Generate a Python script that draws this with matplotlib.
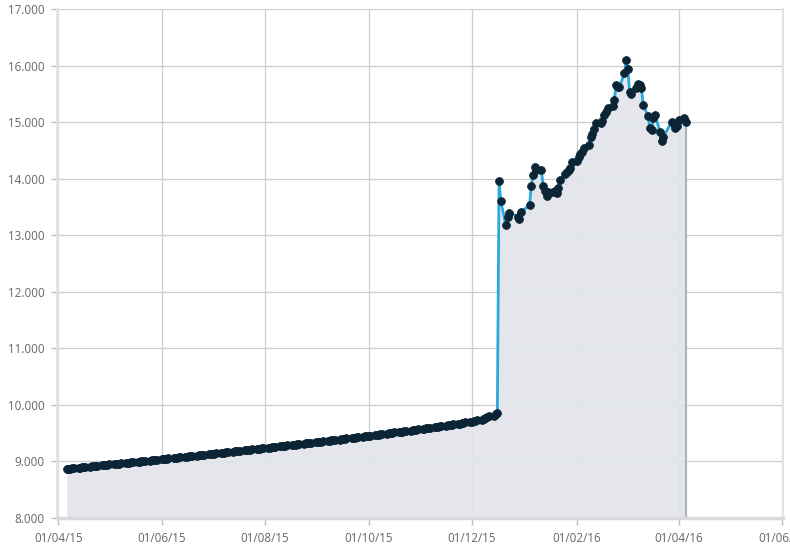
import numpy as np
import pandas as pd
import matplotlib
matplotlib.use("Agg")
import matplotlib.pyplot as plt
import matplotlib.dates as mdates
from matplotlib.ticker import FuncFormatter, MultipleLocator

# ── data ─────────────────────────────────────────────────────────────────────
# business days 06/04/15 .. 16/12/15, one row per week
pre_start, pre_end = "2015-04-06", "2015-12-16"
pre_values = [
    8866, 8870, 8874, 8878, 8883,
    8887, 8891, 8895, 8900, 8904,
    8908, 8912, 8916, 8921, 8925,
    8929, 8933, 8937, 8942, 8946,
    8950, 8954, 8958, 8963, 8967,
    8971, 8975, 8980, 8984, 8989,
    8993, 8997, 9002, 9006, 9011,
    9015, 9019, 9024, 9028, 9033,
    9037, 9041, 9046, 9050, 9055,
    9059, 9063, 9068, 9072, 9077,
    9081, 9085, 9090, 9094, 9099,
    9103, 9108, 9112, 9117, 9121,
    9126, 9131, 9135, 9140, 9144,
    9149, 9154, 9158, 9163, 9167,
    9172, 9177, 9181, 9186, 9190,
    9195, 9200, 9204, 9209, 9213,
    9218, 9223, 9227, 9232, 9236,
    9241, 9246, 9251, 9255, 9260,
    9265, 9270, 9275, 9279, 9284,
    9289, 9294, 9299, 9303, 9308,
    9313, 9318, 9323, 9327, 9332,
    9337, 9342, 9347, 9351, 9356,
    9361, 9366, 9371, 9376, 9381,
    9386, 9391, 9396, 9401, 9406,
    9411, 9416, 9421, 9427, 9432,
    9437, 9442, 9447, 9453, 9458,
    9463, 9468, 9474, 9479, 9485,
    9490, 9496, 9501, 9507, 9512,
    9518, 9524, 9529, 9535, 9540,
    9546, 9552, 9558, 9563, 9569,
    9575, 9581, 9587, 9592, 9598,
    9604, 9610, 9616, 9622, 9628,
    9634, 9640, 9646, 9652, 9658,
    9664, 9670, 9676, 9683, 9689,
    9695, 9703, 9712, 9721, 9730,
    9740, 9752, 9766, 9780, 9795,
    9810, 9835, 9855,
]

post_dates = [
    "2015-12-17", "2015-12-18", "2015-12-21", "2015-12-22", "2015-12-23",
    "2015-12-28", "2015-12-29", "2015-12-30",
    "2016-01-04", "2016-01-05", "2016-01-06", "2016-01-07", "2016-01-08",
    "2016-01-11", "2016-01-12", "2016-01-13", "2016-01-14", "2016-01-15",
    "2016-01-18", "2016-01-19", "2016-01-20", "2016-01-21", "2016-01-22",
    "2016-01-25", "2016-01-26", "2016-01-27", "2016-01-28", "2016-01-29",
    "2016-02-01", "2016-02-02", "2016-02-03", "2016-02-04", "2016-02-05",
    "2016-02-08", "2016-02-09", "2016-02-10", "2016-02-11", "2016-02-12",
    "2016-02-15", "2016-02-16", "2016-02-17", "2016-02-18", "2016-02-19",
    "2016-02-22", "2016-02-23", "2016-02-24", "2016-02-25", "2016-02-26",
    "2016-02-29", "2016-03-01", "2016-03-02", "2016-03-03", "2016-03-04",
    "2016-03-07", "2016-03-08", "2016-03-09", "2016-03-10", "2016-03-11",
    "2016-03-14", "2016-03-15", "2016-03-16", "2016-03-17", "2016-03-18",
    "2016-03-21", "2016-03-22", "2016-03-23",
    "2016-03-28", "2016-03-29", "2016-03-30", "2016-03-31", "2016-04-01",
    "2016-04-04", "2016-04-05",
]
post_values = [
    13955, 13610, 13175, 13315, 13400,
    13330, 13285, 13415,
    13530, 13870, 14060, 14210, 14160,
    14150, 13870, 13780, 13690, 13770,
    13770, 13790, 13750, 13840, 13970,
    14080, 14120, 14150, 14180, 14300,
    14310, 14390, 14435, 14480, 14540,
    14600, 14745, 14790, 14880, 14980,
    14980, 15025, 15125, 15180, 15245,
    15285, 15390, 15650, 15625, 15625,
    15860, 16095, 15933, 15540, 15490,
    15600, 15670, 15650, 15600, 15300,
    15100, 14890, 14860, 15070, 15125,
    14830, 14670, 14745,
    15010, 14960, 14893, 14930, 15040,
    15080, 15010,
]

month_ticks = ["2015-04-01", "2015-06-01", "2015-08-01", "2015-10-01",
               "2015-12-01", "2016-02-01", "2016-04-01", "2016-06-01"]

C_LINE   = "#2aa9dc"
C_DOT    = "#0c2536"
C_FILL   = "#e1e4e9"
C_GRID   = "#cdcdcd"
C_AXIS   = "#e3e3e3"
C_TEXT   = "#666666"

plt.rcParams["font.family"] = ["Open Sans", "DejaVu Sans"]

dates = list(pd.bdate_range(pre_start, pre_end)) + list(pd.to_datetime(post_dates))
values = np.array(pre_values + post_values, dtype=float)

fig = plt.figure(figsize=(7.9, 5.52), dpi=100)
ax = fig.add_axes([57 / 790, 34 / 552, 726 / 790, 509 / 552])

ax.fill_between(dates, 8000, values, color=C_FILL, alpha=0.9, lw=0, zorder=1)
ax.vlines(dates[-1], 8000, values[-1], color="#aeb1b5", lw=1.5, zorder=2)
ax.plot(dates, values, color=C_LINE, lw=2, marker="o", ms=5.6,
        mfc=C_DOT, mec=C_DOT, mew=0.6, zorder=3)

ax.set_ylim(8000, 17000)
ax.set_xlim(pd.Timestamp("2015-03-31 06:00"), pd.Timestamp("2016-06-01 12:00"))
ax.yaxis.set_major_locator(MultipleLocator(1000))
ax.yaxis.set_major_formatter(FuncFormatter(lambda v, _: f"{int(v):,}".replace(",", ".")))
ax.set_xticks(pd.to_datetime(month_ticks))
ax.xaxis.set_major_formatter(mdates.DateFormatter("%d/%m/%y"))

ax.grid(True, color=C_GRID, lw=0.9)
ax.set_axisbelow(True)

ax.spines["top"].set_visible(False)
ax.spines["left"].set_color(C_AXIS)
ax.spines["left"].set_linewidth(2)
ax.spines["right"].set_color(C_AXIS)
ax.spines["right"].set_linewidth(1.5)
ax.spines["bottom"].set_color("#dadada")
ax.spines["bottom"].set_linewidth(2.5)

ax.tick_params(axis="both", colors="#bfbfbf", labelcolor=C_TEXT,
               labelsize=8.4, length=4, width=1)
ax.tick_params(axis="y", pad=5)
ax.tick_params(axis="x", pad=5, length=5)

fig.savefig("out.png", dpi=100, facecolor="white")
